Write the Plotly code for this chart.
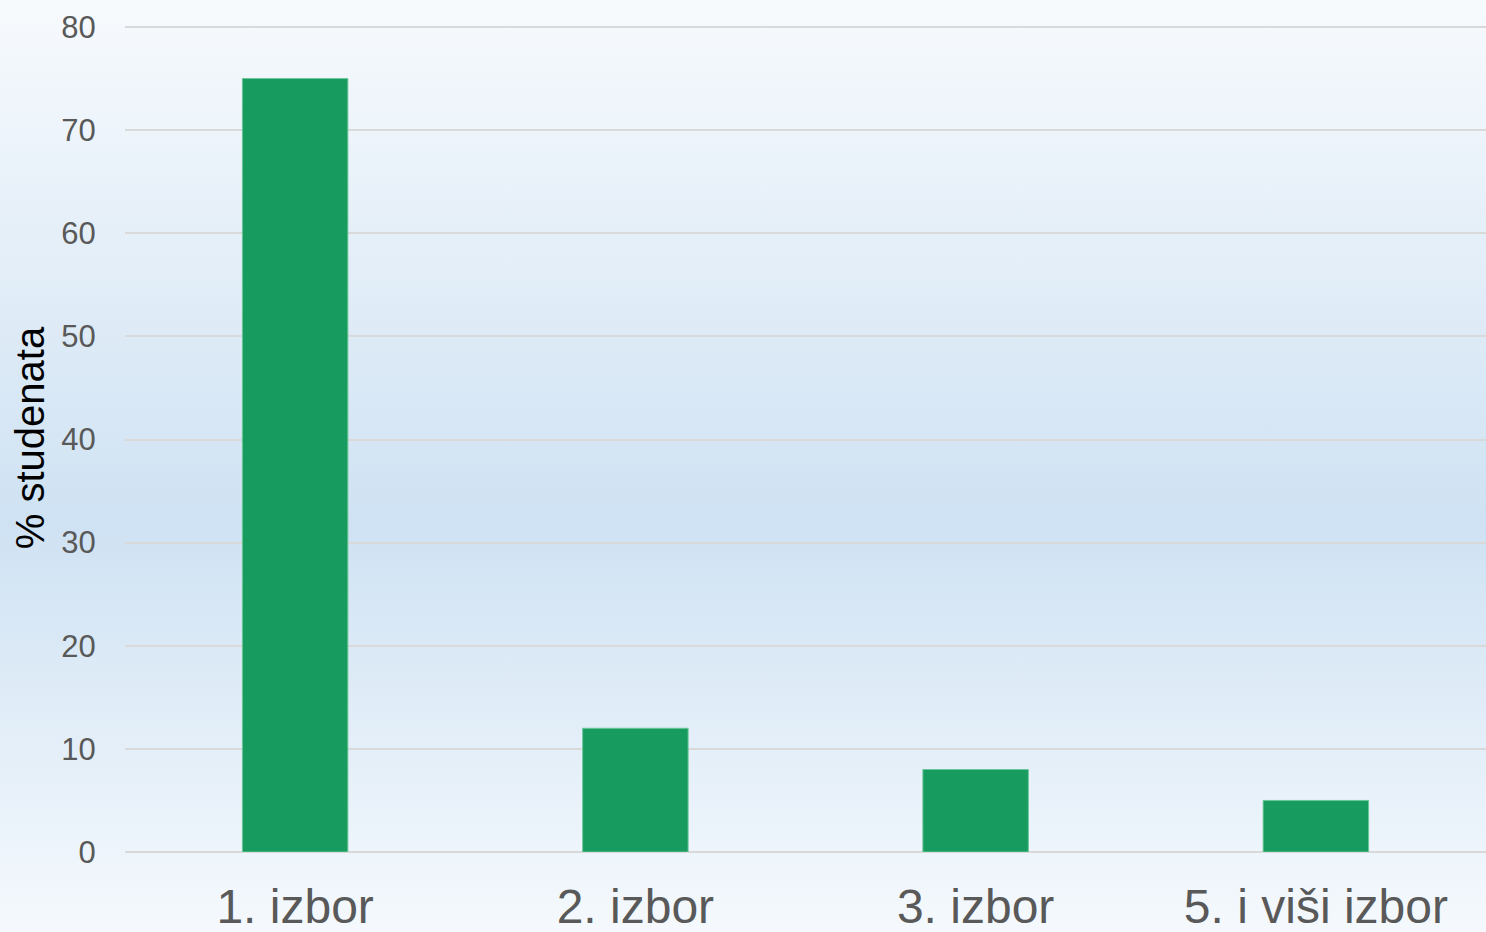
import base64
import plotly.graph_objects as go

categories = ["1. izbor", "2. izbor", "3. izbor", "5. i viši izbor"]
values = [75, 12, 8, 5]
y_ticks = [0, 10, 20, 30, 40, 50, 60, 70, 80]

W, H = 1486, 932
ml, mr, mt, mb = 125, 0, 24, 80
pw, ph = W - ml - mr, H - mt - mb
y_top = ph / (825 / 80)   # a bit above 80 so the top gridline stays visible

# vertical gradient background (light - blue - light)
svg = (
    '<svg xmlns="http://www.w3.org/2000/svg" width="100" height="100" preserveAspectRatio="none">'
    '<defs><linearGradient id="g" x1="0" y1="0" x2="0" y2="1">'
    '<stop offset="0" stop-color="#f7fafd"/>'
    '<stop offset="0.56" stop-color="#cfe2f3"/>'
    '<stop offset="1" stop-color="#f5f9fd"/>'
    '</linearGradient></defs>'
    '<rect width="100" height="100" fill="url(#g)"/></svg>'
)
bg_src = "data:image/svg+xml;base64," + base64.b64encode(svg.encode()).decode()

fig = go.Figure(go.Bar(
    x=categories, y=values,
    marker=dict(color="#179b5e", line=dict(color="#6cc79a", width=1)),
    width=0.31,
))

fig.update_layout(
    width=W, height=H,
    margin=dict(l=ml, r=mr, t=mt, b=mb),
    paper_bgcolor="#f3f7fc",
    plot_bgcolor="rgba(0,0,0,0)",
    font=dict(family="Liberation Sans, Arial, sans-serif", color="#595959"),
    showlegend=False,
    images=[dict(
        source=bg_src, xref="paper", yref="paper",
        x=-ml / pw, y=1 + mt / ph, sizex=W / pw, sizey=H / ph,
        xanchor="left", yanchor="top", sizing="stretch", layer="below",
    )],
    xaxis=dict(
        tickfont=dict(size=48, color="#595959"),
        showgrid=False, showline=False, automargin=False,
        ticks="outside", ticklen=12, tickcolor="rgba(0,0,0,0)",
    ),
    yaxis=dict(
        range=[0, y_top], tickvals=y_ticks, automargin=False,
        tickfont=dict(size=31, color="#595959"),
        showgrid=True, gridcolor="#d9d9d9", gridwidth=2,
        zeroline=True, zerolinecolor="#d9d9d9", zerolinewidth=2,
        ticks="outside", ticklen=22, tickcolor="rgba(0,0,0,0)",
        title=dict(text="% studenata", font=dict(size=40, color="#000000"), standoff=4),
    ),
)

fig.write_html("out.html", config={"displayModeBar": False},
               post_script="document.body.style.margin='0';")
